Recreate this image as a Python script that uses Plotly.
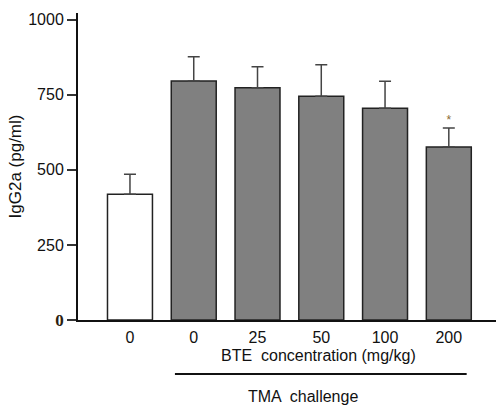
import plotly.graph_objects as go

categories = ["0", "0", "25", "50", "100", "200"]
values = [419, 796, 773, 745, 705, 576]
errors = [66, 80, 70, 105, 90, 63]
bar_colors = ["#ffffff", "#808080", "#808080", "#808080", "#808080", "#808080"]
sig_labels = ["", "", "", "", "", "*"]
y_ticks = [0, 250, 500, 750, 1000]
y_ticktext = ['<span style="font-family:Liberation Serif;font-weight:bold;font-size:17px;color:#2a2010">0</span>',
              "250", "500", "750", "1000"]

xpos = list(range(len(categories)))

fig = go.Figure()
fig.add_trace(go.Bar(
    x=xpos, y=values, width=0.705,
    marker=dict(color=bar_colors, line=dict(color="#222222", width=1.5)),
    error_y=dict(type="data", symmetric=False, array=errors,
                 arrayminus=[0] * len(errors),
                 color="#444444", thickness=1.5, width=6),
    showlegend=False,
))
sig_y = [v + e + 22 for v, e in zip(values, errors)]
fig.add_trace(go.Scatter(
    x=xpos, y=sig_y, mode="text", text=sig_labels,
    textfont=dict(family="Liberation Sans", size=12, color="#8a6a30"),
    textposition="middle center", showlegend=False, hoverinfo="skip",
))

fig.update_layout(
    width=496, height=406,
    margin=dict(l=78, r=0, t=13, b=86),
    paper_bgcolor="white", plot_bgcolor="white",
    font=dict(family="Liberation Sans", size=16, color="#111111"),
    xaxis=dict(
        range=[-0.815, 5.74], tickvals=xpos, ticktext=categories,
        showline=True, linecolor="#111111", linewidth=2,
        ticks="", showgrid=False, zeroline=False,
        tickfont=dict(size=16), ticklabelstandoff=2,
    ),
    yaxis=dict(
        range=[0, 1022], tickvals=y_ticks, ticktext=y_ticktext,
        showline=True, linecolor="#111111", linewidth=2,
        ticks="outside", ticklen=9, tickwidth=1.5, tickcolor="#333333",
        showgrid=False, zeroline=False,
        tickfont=dict(size=16),
        title=dict(text="IgG2a (pg/ml)", font=dict(size=17), standoff=2),
    ),
)

fig.add_annotation(
    x=2.95, y=-0.117, xref="x", yref="paper",
    text="BTE  concentration (mg/kg)", showarrow=False,
    font=dict(size=16), xanchor="center", yanchor="middle",
)
fig.add_shape(
    type="line", xref="x", yref="paper",
    x0=0.705, x1=5.28, y0=-0.176, y1=-0.176,
    line=dict(color="#111111", width=2),
)
fig.add_annotation(
    x=2.72, y=-0.25, xref="x", yref="paper",
    text="TMA  challenge", showarrow=False,
    font=dict(size=16), xanchor="center", yanchor="middle",
)

fig.write_html("out.html")
